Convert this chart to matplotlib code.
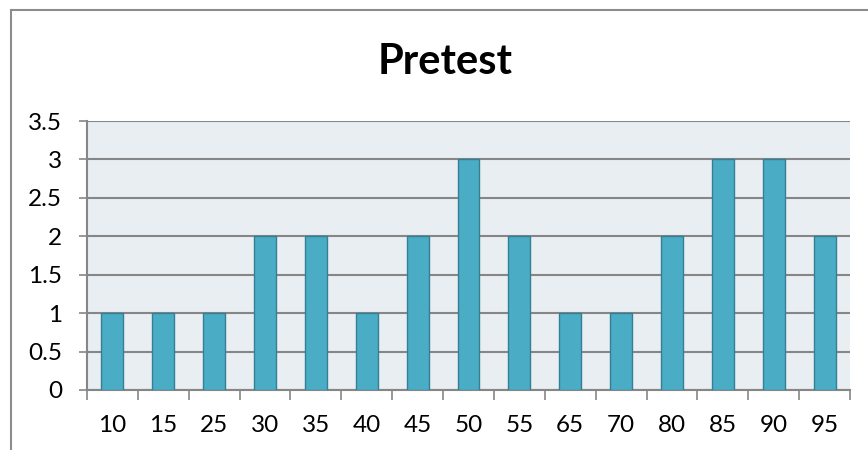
import numpy as np
import matplotlib
matplotlib.use("Agg")
import matplotlib.pyplot as plt
from matplotlib.lines import Line2D

# data
scores = ["10", "15", "25", "30", "35", "40", "45", "50", "55", "65", "70", "80", "85", "90", "95"]
counts = [1, 1, 1, 2, 2, 1, 2, 3, 2, 1, 1, 2, 3, 3, 2]
y_ticks = [0, 0.5, 1, 1.5, 2, 2.5, 3, 3.5]
y_labels = ["0", "0.5", "1", "1.5", "2", "2.5", "3", "3.5"]

plt.rcParams['font.family'] = ['Lato', 'DejaVu Sans']

W, H = 868, 450
fig = plt.figure(figsize=(W / 100, H / 100), dpi=100)
ax = fig.add_axes([87 / W, 1 - 390 / H, (850 - 87) / W, (390 - 121) / H])

grid_col = '#868686'
ax.set_facecolor('#E8EEF2')

x = np.arange(len(scores))
ax.bar(x, counts, width=0.43, color='#4BACC6', edgecolor='#357F93',
       linewidth=1.0, zorder=3)

ax.set_xlim(-0.5, len(scores) - 0.5)
ax.set_ylim(0, 3.5)
ax.set_yticks(y_ticks)
ax.set_yticklabels(y_labels)
ax.set_xticks(x)
ax.set_xticklabels(scores)
ax.set_xticks(np.arange(-0.5, len(scores)), minor=True)

ax.yaxis.grid(True, color=grid_col, linewidth=1.5, zorder=1)
ax.set_axisbelow(True)

ax.tick_params(axis='y', length=6, width=1.2, color=grid_col, pad=12, labelsize=17.5)
ax.tick_params(axis='x', which='major', length=0, pad=18, labelsize=17.5)
ax.tick_params(axis='x', which='minor', length=7, width=1.2, color=grid_col)

for side in ['top', 'right']:
    ax.spines[side].set_visible(False)
for side in ['left', 'bottom']:
    ax.spines[side].set_color(grid_col)
    ax.spines[side].set_linewidth(1.5)

fig.text(445 / W, 1 - 74 / H, 'Pretest', ha='center', va='baseline',
         fontsize=30, fontweight='bold')

# chart frame (only top and left visible in the crop)
fig.add_artist(Line2D([11 / W, 11 / W], [0, 1 - 9.5 / H], transform=fig.transFigure,
                      color='#8C8C8C', linewidth=1.5))
fig.add_artist(Line2D([11 / W, 1], [1 - 9.5 / H, 1 - 9.5 / H], transform=fig.transFigure,
                      color='#8C8C8C', linewidth=1.5))

fig.savefig('out.png', dpi=100)
